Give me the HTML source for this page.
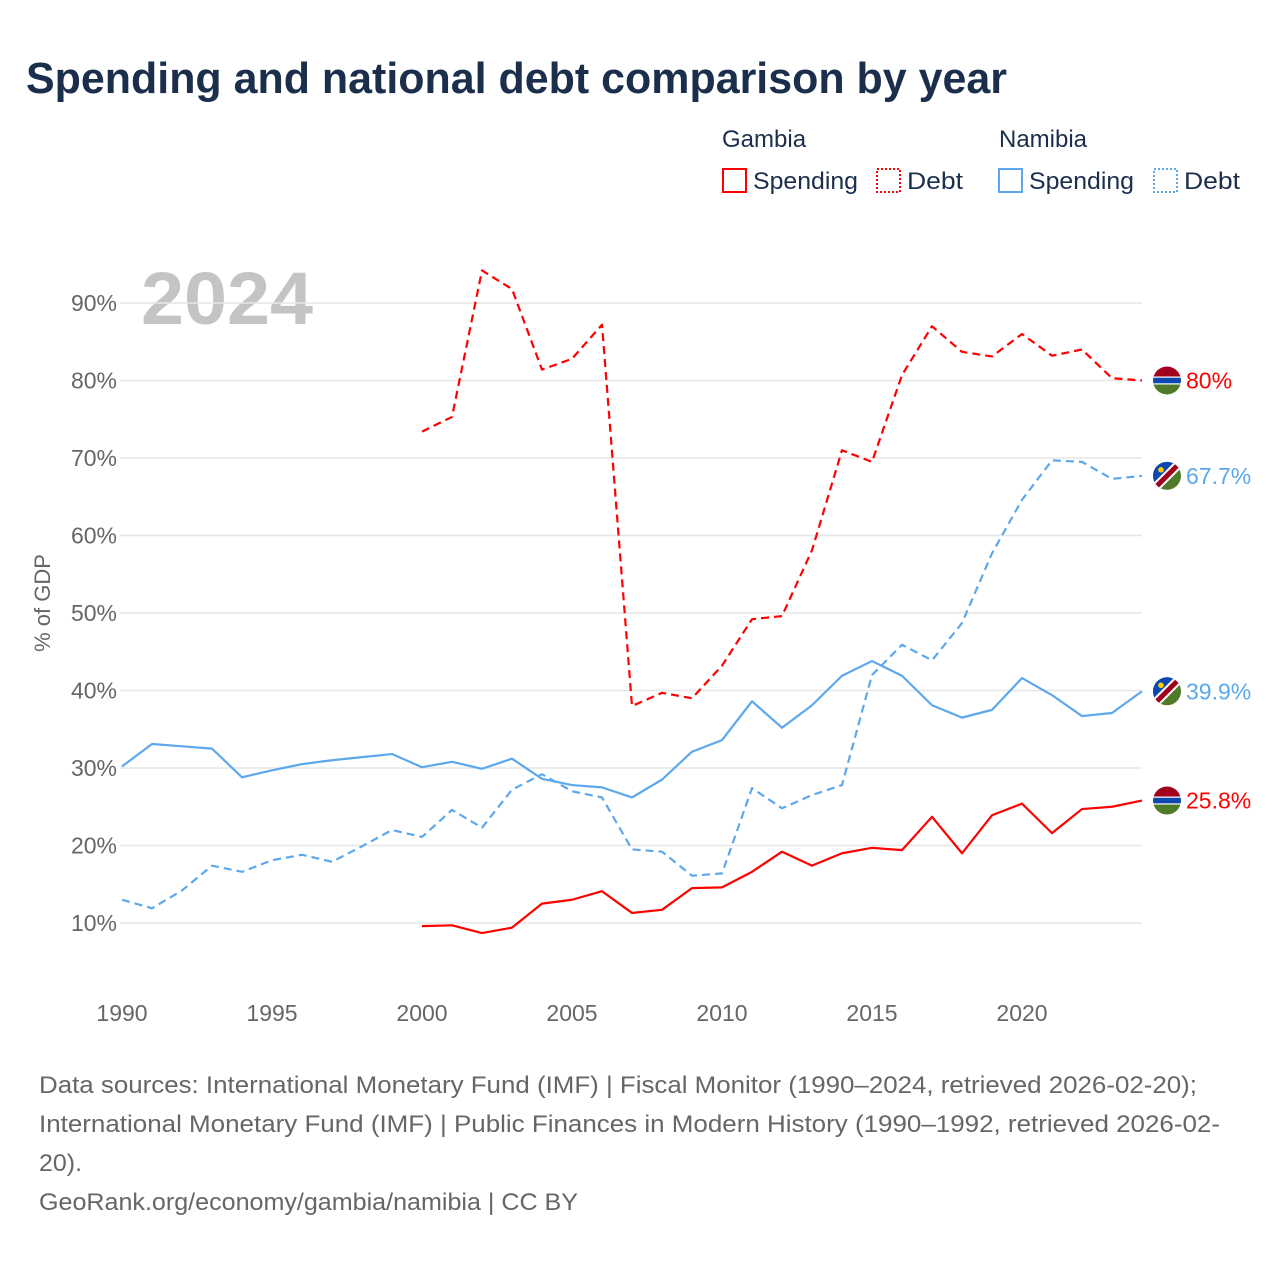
<!DOCTYPE html>
<html><head><meta charset="utf-8"><style>
body{margin:0;background:#fff;font-family:"Liberation Sans",sans-serif;}
#wrap{position:relative;width:1280px;height:1280px;overflow:hidden;}
</style></head><body>
<div id="wrap">
<svg id="svg" width="1280" height="1280" xmlns="http://www.w3.org/2000/svg">
<text x="26" y="93" font-size="44" font-weight="bold" fill="#1b2f4d" textLength="981" lengthAdjust="spacingAndGlyphs">Spending and national debt comparison by year</text>
<g font-size="24" fill="#1b2f4d">
<text x="722" y="147">Gambia</text>
<text x="999" y="147">Namibia</text>
<g><rect x="723" y="169" width="23" height="23" fill="none" stroke="#ff0000" stroke-width="2"/><text x="753" y="189" textLength="105" lengthAdjust="spacingAndGlyphs">Spending</text></g>
<g><rect x="877" y="169" width="23" height="23" fill="none" stroke="#ff0000" stroke-width="2" stroke-dasharray="2,2"/><text x="907" y="189" textLength="56" lengthAdjust="spacingAndGlyphs">Debt</text></g>
<g><rect x="999" y="169" width="23" height="23" fill="none" stroke="#5da8ec" stroke-width="2"/><text x="1029" y="189" textLength="105" lengthAdjust="spacingAndGlyphs">Spending</text></g>
<g><rect x="1154" y="169" width="23" height="23" fill="none" stroke="#5da8ec" stroke-width="2" stroke-dasharray="2,2"/><text x="1184" y="189" textLength="56" lengthAdjust="spacingAndGlyphs">Debt</text></g>
</g>
<text x="141" y="324" font-size="74" font-weight="bold" fill="#c4c4c4" textLength="172" lengthAdjust="spacingAndGlyphs">2024</text>
<text transform="translate(50,603) rotate(-90)" text-anchor="middle" font-size="22" fill="#666">% of GDP</text>
<g id="grid"></g><g id="series"></g><g id="ends"></g>
<g font-size="24" fill="#666">
<text x="39" y="1093" textLength="1158" lengthAdjust="spacingAndGlyphs">Data sources: International Monetary Fund (IMF) | Fiscal Monitor (1990–2024, retrieved 2026-02-20);</text>
<text x="39" y="1132" textLength="1181" lengthAdjust="spacingAndGlyphs">International Monetary Fund (IMF) | Public Finances in Modern History (1990–1992, retrieved 2026-02-</text>
<text x="39" y="1171" textLength="43" lengthAdjust="spacingAndGlyphs">20).</text>
<text x="39" y="1210" textLength="539" lengthAdjust="spacingAndGlyphs">GeoRank.org/economy/gambia/namibia | CC BY</text>
</g>
</svg></div>
<script>
const yTicks=[10,20,30,40,50,60,70,80,90];
const xTicks=[1990,1995,2000,2005,2010,2015,2020];
const namYears=[1990,1991,1992,1993,1994,1995,1996,1997,1998,1999,2000,2001,2002,2003,2004,2005,2006,2007,2008,2009,2010,2011,2012,2013,2014,2015,2016,2017,2018,2019,2020,2021,2022,2023,2024];
const gamYears=[2000,2001,2002,2003,2004,2005,2006,2007,2008,2009,2010,2011,2012,2013,2014,2015,2016,2017,2018,2019,2020,2021,2022,2023,2024];
const namSpending=[30.2,33.1,32.8,32.5,28.8,29.7,30.5,31.0,31.4,31.8,30.1,30.8,29.9,31.2,28.6,27.8,27.5,26.2,28.5,32.1,33.6,38.6,35.2,38.1,41.9,43.8,41.9,38.1,36.5,37.5,41.6,39.4,36.7,37.1,39.9];
const namDebt=[13.0,11.9,14.2,17.4,16.6,18.1,18.8,17.9,19.9,22.0,21.1,24.6,22.3,27.2,29.2,27.0,26.2,19.5,19.2,16.1,16.4,27.4,24.8,26.5,27.8,42.0,45.9,43.9,48.7,57.7,64.6,69.7,69.5,67.3,67.7];
const gamSpending=[9.6,9.7,8.7,9.4,12.5,13.0,14.1,11.3,11.7,14.5,14.6,16.6,19.2,17.4,19.0,19.7,19.4,23.7,19.0,23.9,25.4,21.6,24.7,25.0,25.8];
const gamDebt=[73.4,75.3,94.2,91.8,81.4,82.8,87.2,38.0,39.7,39.0,43.2,49.2,49.6,58.1,71.0,69.5,80.7,87.0,83.7,83.1,86.0,83.2,84.0,80.3,80.0];
const NS="http://www.w3.org/2000/svg";
const X=y=>122+(y-1990)*30;
const Y=v=>1000.5-v*7.75;
function mk(t,a,p){const e=document.createElementNS(NS,t);for(const k in a)e.setAttribute(k,a[k]);p.appendChild(e);return e;}
const grid=document.getElementById('grid');
yTicks.forEach(v=>{
 const l=mk('line',{x1:120,x2:1142,y1:Y(v),y2:Y(v),stroke:'#e6e6e6','stroke-width':1.5},grid);
 
 
 const t=mk('text',{x:117,y:Y(v)+8,'text-anchor':'end','font-size':23,fill:'#666'},grid);
 t.textContent=v+'%';
 
 
});
xTicks.forEach(v=>{
 const t=mk('text',{x:X(v),y:1021,'text-anchor':'middle','font-size':23,fill:'#666'},grid);
 t.textContent=v;
 
 
});
const ser=document.getElementById('series');
function line(years,vals,color,dash,name){
 const d=years.map((y,i)=>(i?'L':'M')+X(y)+','+Y(vals[i])).join(' ');
 const p=mk('path',{d:d,fill:'none',stroke:color,'stroke-width':2.2,'stroke-linejoin':'round'},ser);
 if(dash)p.setAttribute('stroke-dasharray','8,5');
 
 
}
line(namYears,namSpending,'#5da8ec',false,'namibia-spending-line');
line(namYears,namDebt,'#5da8ec',true,'namibia-debt-line');
line(gamYears,gamSpending,'#ff0000',false,'gambia-spending-line');
line(gamYears,gamDebt,'#ff0000',true,'gambia-debt-line');
const ends=document.getElementById('ends');
function gambiaFlag(cx,cy,name){
 const g=mk('g',{},ends);
 
 
 const cp=mk('clipPath',{id:'c'+name},g);
 mk('circle',{cx:cx,cy:cy,r:14},cp);
 const h=mk('g',{'clip-path':'url(#c'+name+')'},g);
 mk('rect',{x:cx-15,y:cy-15,width:30,height:11,fill:'#a3001e'},h);
 mk('rect',{x:cx-15,y:cy-4,width:30,height:8,fill:'#fff'},h);
 mk('rect',{x:cx-15,y:cy-2.8,width:30,height:5.6,fill:'#0c48b0'},h);
 mk('rect',{x:cx-15,y:cy+4,width:30,height:11,fill:'#4f7a2a'},h);
}
function namibiaFlag(cx,cy,name){
 const g=mk('g',{},ends);
 
 
 const cp=mk('clipPath',{id:'c'+name},g);
 mk('circle',{cx:cx,cy:cy,r:14},cp);
 const h=mk('g',{'clip-path':'url(#c'+name+')'},g);
 mk('rect',{x:cx-15,y:cy-15,width:30,height:30,fill:'#4f7a2a'},h);
 mk('polygon',{points:(cx-15)+','+(cy-15)+' '+(cx+15)+','+(cy-15)+' '+(cx-15)+','+(cy+15),fill:'#0c48b0'},h);
 mk('line',{x1:cx-15,y1:cy+15,x2:cx+15,y2:cy-15,stroke:'#fff','stroke-width':9},h);
 mk('line',{x1:cx-15,y1:cy+15,x2:cx+15,y2:cy-15,stroke:'#a3001e','stroke-width':5},h);
 mk('circle',{cx:cx-6,cy:cy-6,r:2.8,fill:'#ffce00'},h);
}
function label(v,txt,color,name){
 const t=mk('text',{x:1186,y:Y(v)+8,'font-size':23,fill:color},ends);
 t.textContent=txt;
 
 
}
const fx=1167;
gambiaFlag(fx,Y(gamDebt[gamDebt.length-1]),'gambia-debt-flag');
label(gamDebt[gamDebt.length-1],'80%','#ff0000','gambia-debt-end-label');
namibiaFlag(fx,Y(namDebt[namDebt.length-1]),'namibia-debt-flag');
label(namDebt[namDebt.length-1],'67.7%','#5da8ec','namibia-debt-end-label');
namibiaFlag(fx,Y(namSpending[namSpending.length-1]),'namibia-spending-flag');
label(namSpending[namSpending.length-1],'39.9%','#5da8ec','namibia-spending-end-label');
gambiaFlag(fx,Y(gamSpending[gamSpending.length-1]),'gambia-spending-flag');
label(gamSpending[gamSpending.length-1],'25.8%','#ff0000','gambia-spending-end-label');
</script>
</body></html>
